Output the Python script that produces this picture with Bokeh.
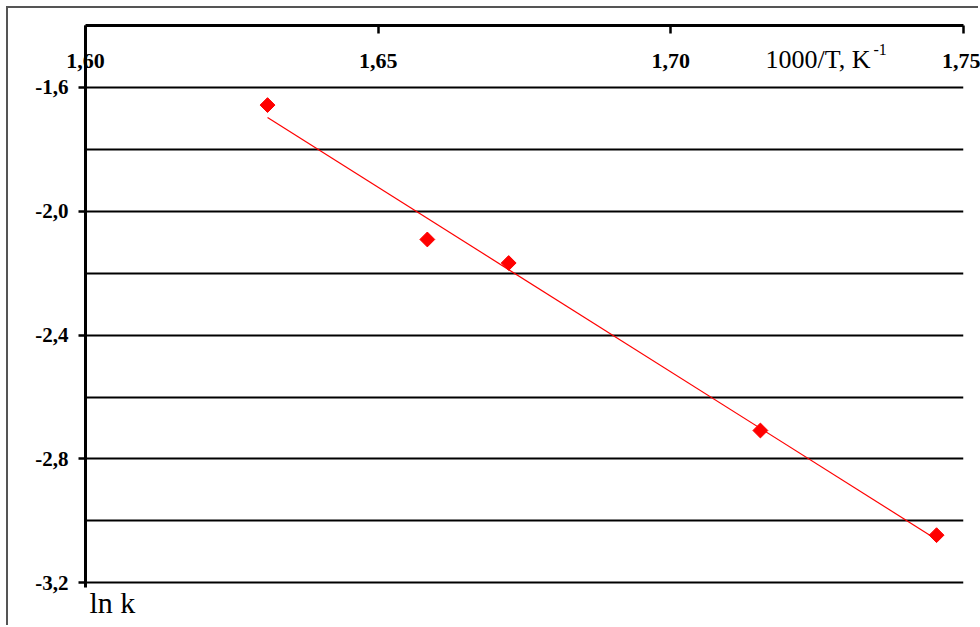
import numpy as np
from bokeh.plotting import figure
from bokeh.models import FixedTicker, Label, Range1d, Title
from bokeh.embed import file_html
from bokeh.resources import INLINE

# ---- data ----
inv_T = [1.6311, 1.6584, 1.6723, 1.7153, 1.7454]
ln_k = [-1.657, -2.091, -2.167, -2.708, -3.046]

x_ticks = [1.60, 1.65, 1.70, 1.75]
x_tick_labels = ["1,60", "1,65", "1,70", "1,75"]
y_ticks = [-3.2, -2.8, -2.4, -2.0, -1.6]
y_tick_labels = ["-3,2", "-2,8", "-2,4", "-2,0", "-1,6"]
y_minor = [-3.0, -2.6, -2.2, -1.8]

x_title = "1000/T, K"
x_title_sup = "-1"
y_title = "ln k"

# ---- layout ----
W, H = 972, 619
ML, MR, MT, MB = 77, 17, 17, 40
x0, x1 = 1.60, 1.75
y0, y1 = -3.215, -1.40
frame_w = W - ML - MR
frame_h = H - MT - MB
ppx = frame_w / (x1 - x0)
ppy = frame_h / (y1 - y0)

FONT = "Liberation Serif"

p = figure(width=W, height=H, x_range=Range1d(x0, x1), y_range=Range1d(y0, y1),
           x_axis_location="above", y_axis_location="left",
           output_backend="svg", toolbar_location=None)
p.min_border_left = ML
p.min_border_right = MR
p.min_border_top = MT
p.min_border_bottom = MB
p.outline_line_color = None
p.background_fill_color = "white"
p.border_fill_color = "white"
p.styles = {"margin": "8px 0 0 8px", "box-shadow": "-2px -2px 0 0 #555555"}

# grid
p.xgrid.visible = False
p.ygrid.grid_line_color = "black"
p.ygrid.grid_line_width = 1.8
p.ygrid.minor_grid_line_color = "black"
p.ygrid.minor_grid_line_width = 1.8

# y axis
p.yaxis.ticker = FixedTicker(ticks=y_ticks, minor_ticks=y_minor)
p.yaxis.major_label_overrides = {t: s for t, s in zip(y_ticks, y_tick_labels)}
p.yaxis.axis_line_width = 3
p.yaxis.axis_line_color = "black"
p.yaxis.major_tick_in = 0
p.yaxis.major_tick_out = 7
p.yaxis.major_tick_line_width = 2.5
p.yaxis.minor_tick_line_color = None
p.yaxis.major_label_standoff = 10
p.yaxis.major_label_text_font = FONT
p.yaxis.major_label_text_font_style = "bold"
p.yaxis.major_label_text_font_size = "21px"
p.yaxis.major_label_text_color = "black"

# x axis (top), labels pushed below the axis line
p.xaxis.ticker = FixedTicker(ticks=x_ticks, minor_ticks=[])
p.xaxis.major_label_overrides = {t: s for t, s in zip(x_ticks, x_tick_labels)}
p.xaxis.axis_line_width = 3
p.xaxis.axis_line_color = "black"
p.xaxis.major_tick_in = 8
p.xaxis.major_tick_out = 0
p.xaxis.major_tick_line_width = 2.5
p.xaxis.minor_tick_line_color = None
p.xaxis.major_label_standoff = -42
p.xaxis.major_label_text_font = FONT
p.xaxis.major_label_text_font_style = "bold"
p.xaxis.major_label_text_font_size = "22px"
p.xaxis.major_label_text_color = "black"

# axis titles
p.add_layout(Label(x=x0 + 680 / ppx, y=y1 - 34 / ppy, text=x_title,
                   text_align="left", text_baseline="alphabetic",
                   text_font=FONT, text_font_size="26px", text_color="black"))
p.add_layout(Label(x=x0 + 788 / ppx, y=y1 - 24 / ppy, text=x_title_sup,
                   text_align="left", text_baseline="alphabetic",
                   text_font=FONT, text_font_size="16px", text_color="black"))
p.add_layout(Title(text=y_title, align="left", offset=4, standoff=-4,
                   vertical_align="top", text_font=FONT, text_font_style="normal",
                   text_font_size="30px", text_color="black"), "below")

# trend line (least squares)
slope, icpt = np.polyfit(inv_T, ln_k, 1)
xl = np.array([min(inv_T), max(inv_T)])
p.line(xl, slope * xl + icpt, line_color="red", line_width=1.2)

# points
p.scatter(inv_T, ln_k, marker="square", angle=np.pi / 4, size=10.5,
          fill_color="red", line_color="red")

open("out.html", "w").write(file_html(p, INLINE))
